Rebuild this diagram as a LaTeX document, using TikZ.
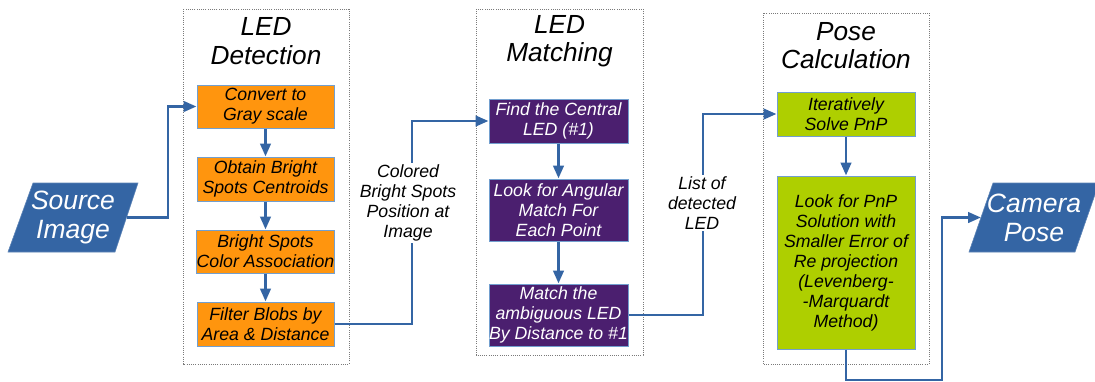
\documentclass[tikz,border=0pt]{standalone}
\usepackage{fontspec}
\setmainfont{Liberation Sans}
\usetikzlibrary{arrows.meta}
\definecolor{flowblue}{HTML}{3465A4}
\definecolor{edgeblue}{HTML}{729FCF}
\definecolor{detorange}{HTML}{FF950E}
\definecolor{matchpurple}{HTML}{4B1F6F}
\definecolor{posegreen}{HTML}{AECF00}
\definecolor{framegray}{HTML}{7A7A7A}
\tikzset{
  stage/.style={draw=framegray, line width=0.8pt, dash pattern=on 1pt off 1.2pt},
  stagetitle/.style={align=center, inner sep=0pt, font=\fontsize{26.2}{28.5}\selectfont\itshape},
  stepbox/.style={draw=edgeblue, line width=1pt, inner sep=0pt, align=center,
    minimum width=#1, font=\fontsize{17.7}{20}\selectfont\itshape},
  detbox/.style={stepbox=137pt, fill=detorange, text=black},
  matchbox/.style={stepbox=139pt, fill=matchpurple, text=white},
  posebox/.style={stepbox=138pt, fill=posegreen, text=black},
  ioshape/.style={fill=flowblue, draw=flowblue!80, line width=0.6pt},
  iotext/.style={align=center, inner sep=0pt, text=white,
    font=\fontsize{26.5}{29}\selectfont\itshape},
  flow/.style={draw=flowblue, line width=2.8pt,
    -{Triangle[length=13pt,width=10.5pt]}},
  flowlabel/.style={fill=white, align=center, inner sep=2pt,
    font=\fontsize{17.7}{20}\selectfont\itshape}
}
\begin{document}
\begin{tikzpicture}[x=1pt,y=-1pt]
\useasboundingbox (0,0) rectangle (1095,381);

% stage frames
\draw[stage] (183,9) rectangle (349,364);
\draw[stage] (476,9) rectangle (643,355);
\draw[stage] (763,13) rectangle (929,364);

% stage titles
\node[stagetitle] (tdet) at (266,41) {LED\\Detection};
\node[stagetitle] (tmat) at (559.5,41) {LED\\Matching};
\node[stagetitle] (tpose) at (846,45.5) {Pose\\Calculation};

% input and output
\path[ioshape] (33,183) -- (138,183) -- (115,252) -- (8,252) -- cycle;
\node[iotext] (src) at (73,217.5) {Source\\Image};
\coordinate (srcR) at (126.5,217.5);

\path[ioshape] (993,183) -- (1099,183) -- (1075,252) -- (969,252) -- cycle;
\node[iotext] (cam) at (1034,217.5) {Camera\\Pose};
\coordinate (camL) at (981,217.5);

% LED detection steps
\node[detbox, minimum height=43pt] (conv) at (265.5,106.5) {Convert to\\Gray scale};
\node[detbox, minimum height=44pt] (obtain) at (265.5,179) {Obtain Bright\\Spots Centroids};
\node[detbox, minimum height=43pt] (assoc) at (265.5,251.5) {Bright Spots\\Color Association};
\node[detbox, minimum height=44pt] (filter) at (265.5,324) {Filter Blobs by\\Area \& Distance};

% LED matching steps
\node[matchbox, minimum height=44pt] (central) at (558.5,121) {Find the Central\\LED (\#1)};
\node[matchbox, minimum height=62pt] (angular) at (558.5,210) {Look for Angular\\Match For\\Each Point};
\node[matchbox, minimum height=62pt] (ambig) at (558.5,315) {Match the\\ambiguous LED\\By Distance to \#1};

% pose calculation steps
\node[posebox, minimum height=44pt] (solve) at (846,114) {Iteratively\\Solve PnP};
\node[posebox, minimum height=173pt] (look) at (846,262.5) {Look for PnP\\Solution with\\Smaller Error of\\Re projection\\(Levenberg-\\-Marquardt\\Method)};

% connectors
\draw[flow] (srcR) -- (168,217.5) |- (conv.west);
\draw[flow] (conv) -- (obtain);
\draw[flow] (obtain) -- (assoc);
\draw[flow] (assoc) -- (filter);

\draw[flow] (filter.east) -- (412,324) |- (central.west);
\node[flowlabel] (lblspots) at (408,203) {Colored\\Bright Spots\\Position at\\Image};

\draw[flow] (central) -- (angular);
\draw[flow] (angular) -- (ambig);

\draw[flow] (ambig.east) -- (703,315) |- (solve.west);
\node[flowlabel] (lblled) at (702,203) {List of\\detected\\LED};

\draw[flow] (solve) -- (look);
\draw[flow] (look.south) -- (846,380) -| (942,217.5) -- (camL);
\end{tikzpicture}
\end{document}
